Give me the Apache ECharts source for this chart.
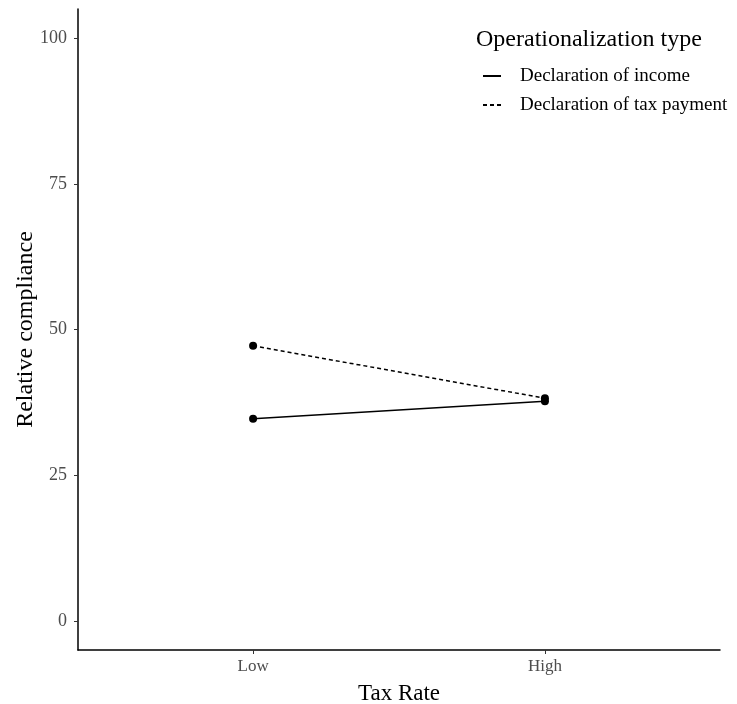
<!DOCTYPE html>
<html>
<head>
<meta charset="utf-8">
<script src="https://cdn.jsdelivr.net/npm/echarts@6/dist/echarts.min.js"></script>
<style>html,body{margin:0;padding:0;background:#fff;}#c{width:737px;height:704px;}</style>
</head>
<body>
<div id="c"></div>
<script>
var categories = ['Low', 'High'];
var seriesNames = ['Declaration of income', 'Declaration of tax payment'];
var incomeValues = [34.7, 37.7];
var taxPaymentValues = [47.2, 38.2];
var yTicks = [0, 25, 50, 75, 100];

var catPos = categories.map(function (c, i) { return i + 1; });
function toPairs(vals) { return vals.map(function (v, i) { return [catPos[i], v]; }); }

var FONT = '"Liberation Serif", "Times New Roman", serif';
var chart = echarts.init(document.getElementById('c'));
chart.setOption({
  animation: false,
  backgroundColor: '#fff',
  textStyle: { fontFamily: FONT },
  title: {
    text: 'Operationalization type',
    left: 471, top: 23,
    textStyle: { fontFamily: FONT, fontSize: 24, fontWeight: 'normal', color: '#000' }
  },
  legend: {
    orient: 'vertical',
    left: 477, top: 61,
    itemWidth: 18, itemHeight: 14, itemGap: 9,
    data: seriesNames,
    itemStyle: { opacity: 0 },
    textStyle: { fontFamily: FONT, fontSize: 19, lineHeight: 20, color: '#000', padding: [0, 0, 0, 14] }
  },
  grid: { left: 78, right: 17, top: 9, bottom: 54, containLabel: false, outerBoundsMode: 'none' },
  xAxis: {
    type: 'value', min: 0.4, max: 2.6,
    name: 'Tax Rate', nameLocation: 'middle', nameGap: 32,
    nameTextStyle: { fontFamily: FONT, fontSize: 23, color: '#000' },
    axisLine: { show: true, onZero: false, lineStyle: { color: '#000', width: 1.5 } },
    axisTick: { show: true, length: 4, customValues: catPos, lineStyle: { color: '#333', width: 1 } },
    axisLabel: {
      customValues: catPos, margin: 8,
      formatter: function (v) { return categories[Math.round(v) - 1] || ''; },
      fontFamily: FONT, fontSize: 17, color: '#4d4d4d'
    },
    splitLine: { show: false }
  },
  yAxis: {
    type: 'value', min: -5, max: 105,
    name: 'Relative compliance', nameLocation: 'middle', nameGap: 40, nameMoveOverlap: false,
    nameTextStyle: { fontFamily: FONT, fontSize: 24, color: '#000' },
    axisLine: { show: true, onZero: false, lineStyle: { color: '#000', width: 1.5 } },
    axisTick: { show: true, length: 4, customValues: yTicks, lineStyle: { color: '#333', width: 1 } },
    axisLabel: { customValues: yTicks, margin: 11, fontFamily: FONT, fontSize: 18, color: '#4d4d4d' },
    splitLine: { show: false }
  },
  series: [
    {
      name: seriesNames[0], type: 'line', data: toPairs(incomeValues),
      symbol: 'circle', symbolSize: 8,
      itemStyle: { color: '#000' },
      lineStyle: { color: '#000', width: 1.5, type: 'solid' }
    },
    {
      name: seriesNames[1], type: 'line', data: toPairs(taxPaymentValues),
      symbol: 'circle', symbolSize: 8,
      itemStyle: { color: '#000' },
      lineStyle: { color: '#000', width: 1.5, type: [4, 3] }
    }
  ]
});
</script>
</body>
</html>
